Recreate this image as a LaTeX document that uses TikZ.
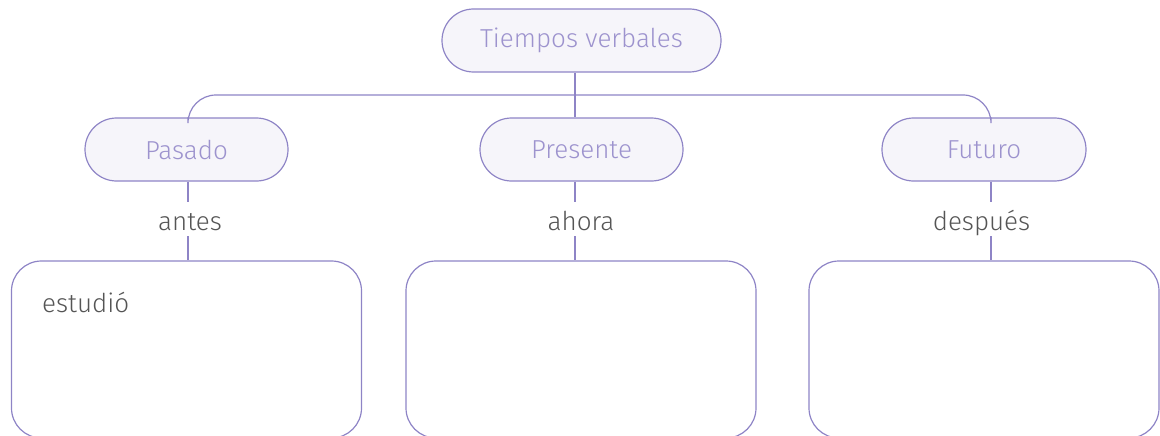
\documentclass[tikz,border=0pt]{standalone}
\usepackage{fontspec}
\setmainfont{Fira Sans}[UprightFont=* Light]
\usetikzlibrary{positioning}

\definecolor{lila}{HTML}{8E84C6}
\definecolor{lilafondo}{HTML}{F6F5FA}
\definecolor{lilatexto}{HTML}{9D93CE}
\definecolor{gristexto}{HTML}{555555}

\tikzset{
  tiempo/.style={draw=lila, fill=lilafondo, rounded corners=31.5pt, line width=1.2pt,
    minimum height=63pt, inner sep=0pt, text=lilatexto, font=\fontsize{26}{30}\selectfont},
  etiqueta/.style={inner xsep=0pt, inner ysep=5pt, text height=23pt, text depth=1pt,
    text=gristexto, font=\fontsize{26}{30}\selectfont},
  caja/.style={draw=lila, rounded corners=30pt, line width=1.2pt, minimum width=350pt,
    minimum height=177pt, inner sep=0pt},
  rama/.style={draw=lila, line width=1.2pt}
}

\begin{document}
\begin{tikzpicture}[x=1pt, y=-1pt]
  \useasboundingbox (0,0) rectangle (1160,436);

  % nodos de arriba
  \node[tiempo, minimum width=279pt] (verbos) at (581.5,40.5) {Tiempos verbales};
  \node[tiempo, minimum width=203pt] (pasado) at (186.5,149.5) {Pasado};
  \node[tiempo, minimum width=203pt] (presente) at (581.5,149.5) {Presente};
  \node[tiempo, minimum width=204pt] (futuro) at (984,149.5) {Futuro};

  % etiquetas
  \node[etiqueta] (antes) at (190,219) {antes};
  \node[etiqueta] (ahora) at (581,219) {ahora};
  \node[etiqueta] (despues) at (981.5,219) {después};

  % cajas de abajo
  \node[caja] (cajapasado) at (186.5,349.5) {};
  \node[caja] (cajapresente) at (581,349.5) {};
  \node[caja] (cajafuturo) at (984,349.5) {};
  \node[anchor=base west, inner sep=0pt, text=gristexto, font=\fontsize{26}{30}\selectfont]
    (estudio) at (42,312) {estudió};

  % ramas
  \coordinate (bus) at (0,95);
  \coordinate (xpas) at ([xshift=1.5pt]pasado.north);
  \coordinate (xpre) at ([xshift=-6.5pt]presente.north);
  \coordinate (xfut) at ([xshift=7pt]futuro.north);
  \draw[rama, rounded corners=28pt] (xpas) -- (xpas |- bus) -- (xfut |- bus) -- (xfut);
  \draw[rama] (xpre |- verbos.south) -- (xpre);
  \draw[rama] (xpas |- pasado.south) -- (xpas |- antes.north);
  \draw[rama] (xpas |- antes.south) -- (xpas |- cajapasado.north);
  \draw[rama] (xpre |- presente.south) -- (xpre |- ahora.north);
  \draw[rama] (xpre |- ahora.south) -- (xpre |- cajapresente.north);
  \draw[rama] (xfut |- futuro.south) -- (xfut |- despues.north);
  \draw[rama] (xfut |- despues.south) -- (xfut |- cajafuturo.north);
\end{tikzpicture}
\end{document}
